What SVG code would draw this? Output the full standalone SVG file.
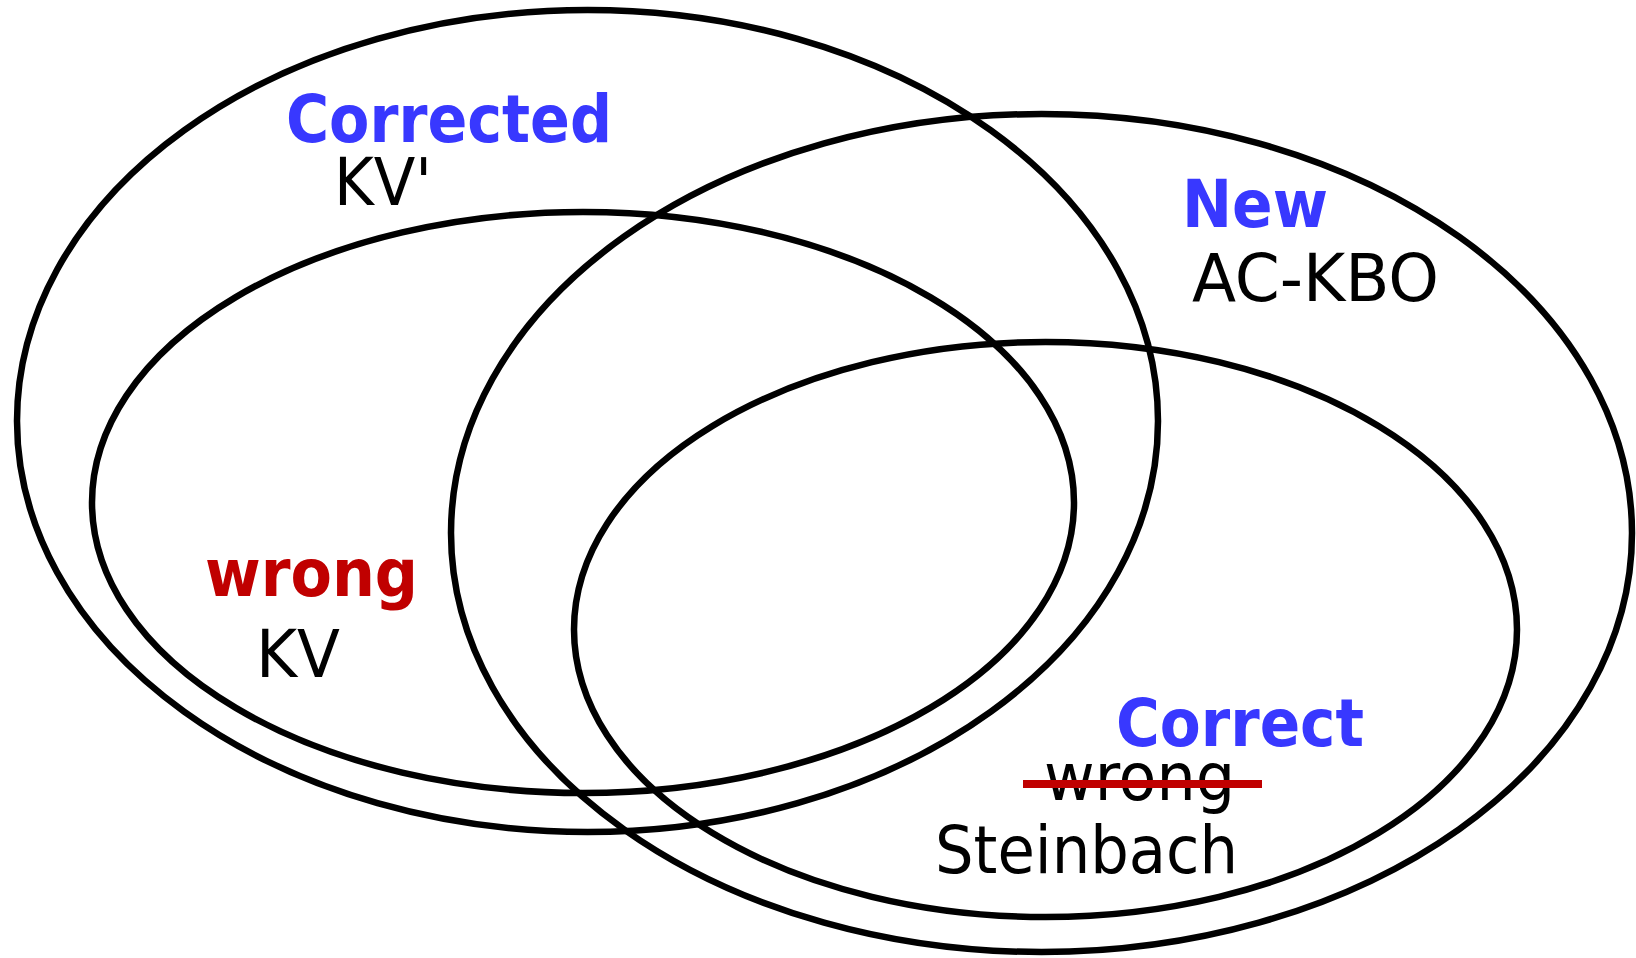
<svg xmlns="http://www.w3.org/2000/svg" width="1636" height="958" viewBox="0 0 1636 958">
  <style>
    .set { fill: none; stroke: #000; stroke-width: 6.5; }
    .head { font-family: "DejaVu Sans Condensed", "DejaVu Sans", sans-serif; font-stretch: condensed; font-weight: bold; font-size: 66px; }
    .name { font-family: "DejaVu Sans Condensed", "DejaVu Sans", sans-serif; font-stretch: condensed; font-size: 66px; fill: #000; }
    .blue { fill: #3838FF; }
    .red { fill: #C00000; }
    .strike { stroke: #C00000; stroke-width: 8; }
  </style>
  <rect width="1636" height="958" fill="#fff"/>

  <!-- set outlines -->
  <g id="sets">
    <ellipse id="set-corrected" class="set" cx="587.5" cy="421" rx="570.5" ry="411"/>
    <ellipse id="set-wrong" class="set" cx="583" cy="502.5" rx="491" ry="290.5"/>
    <ellipse id="set-new" class="set" cx="1041.5" cy="533" rx="590.5" ry="419"/>
    <ellipse id="set-correct" class="set" cx="1045.5" cy="629.5" rx="471.5" ry="287.5"/>
  </g>

  <g id="connectors"/>

  <!-- labels -->
  <g id="label-corrected">
    <text class="head blue" x="286" y="142" textLength="326" lengthAdjust="spacingAndGlyphs">Corrected</text>
    <text class="name" x="334" y="205" textLength="98" lengthAdjust="spacingAndGlyphs">KV'</text>
  </g>

  <g id="label-new">
    <text class="head blue" x="1182" y="227" textLength="146" lengthAdjust="spacingAndGlyphs">New</text>
    <text class="name" x="1192" y="301" textLength="247" lengthAdjust="spacingAndGlyphs">AC-KBO</text>
  </g>

  <g id="label-wrong">
    <text class="head red" x="205" y="596" textLength="213" lengthAdjust="spacingAndGlyphs">wrong</text>
    <text class="name" x="256" y="677" textLength="84" lengthAdjust="spacingAndGlyphs">KV</text>
  </g>

  <g id="label-correct">
    <text class="head blue" x="1116" y="746" textLength="248" lengthAdjust="spacingAndGlyphs">Correct</text>
    <text class="name" x="1044" y="800" textLength="191" lengthAdjust="spacingAndGlyphs">wrong</text>
    <line class="strike" x1="1023" y1="784" x2="1262" y2="784"/>
    <text class="name" x="935" y="873" textLength="303" lengthAdjust="spacingAndGlyphs">Steinbach</text>
  </g>
</svg>
